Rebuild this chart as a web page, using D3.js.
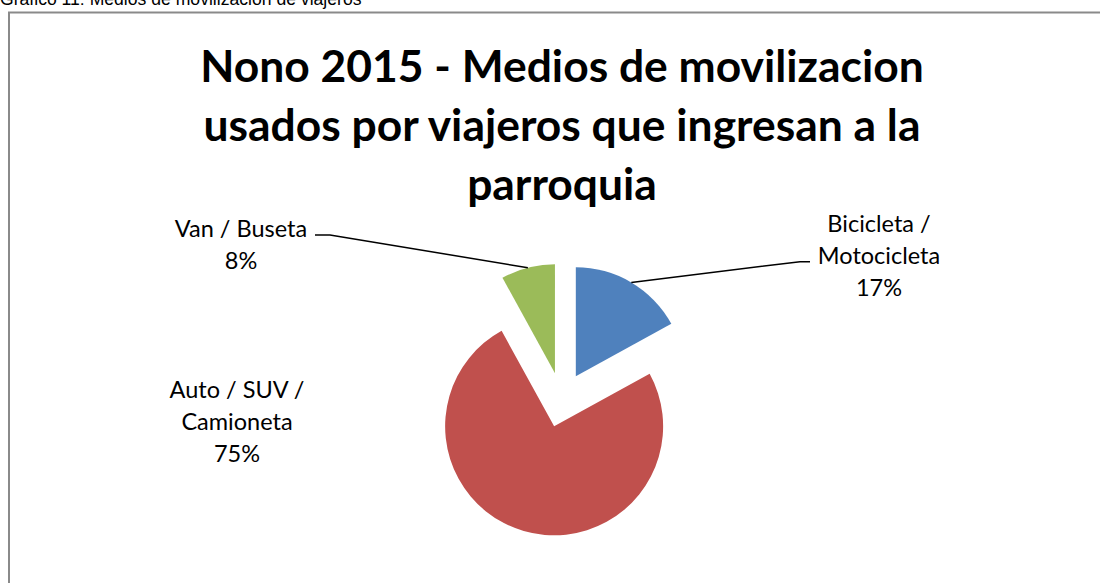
<!DOCTYPE html>
<html>
<head>
<meta charset="utf-8">
<script src="https://cdn.jsdelivr.net/npm/d3@7"></script>
<style>
  body { margin: 0; background: #fff; }
  svg { display: block; }
</style>
</head>
<body>
<svg id="chart" width="1100" height="583"></svg>
<script>
// Data
var categories = ['Bicicleta / Motocicleta', 'Auto / SUV / Camioneta', 'Van / Buseta'];
var values = [17, 75, 8];
var colors = ['#4F81BD', '#C0504D', '#9BBB59'];
// label lines as they are wrapped in the chart
var labelLines = [['Bicicleta /', 'Motocicleta'], ['Auto / SUV /', 'Camioneta'], ['Van / Buseta']];
var titleLines = ['Nono 2015 - Medios de movilizacion', 'usados por viajeros que ingresan a la', 'parroquia'];
var caption = 'Gráfico 11: Medios de movilización de viajeros';

var svg = d3.select('#chart');

// caption of the document (cut off at the top, as in the page it came from)
svg.append('text')
  .attr('x', 0)
  .attr('y', 5)
  .style('font-family', '"Liberation Sans", Arial, sans-serif')
  .style('font-size', '17.6px')
  .style('fill', '#000')
  .text(caption);

// chart frame
svg.append('rect')
  .attr('x', 9)
  .attr('y', 12.5)
  .attr('width', 1200)
  .attr('height', 700)
  .style('fill', '#fff')
  .style('stroke', '#8a8a8a')
  .style('stroke-width', 2);

// title
svg.append('text')
  .attr('text-anchor', 'middle')
  .style('font-family', 'Lato, sans-serif')
  .style('font-weight', 'bold')
  .style('font-size', '44.4px')
  .selectAll('tspan')
  .data(titleLines)
  .enter()
  .append('tspan')
  .attr('x', 562)
  .attr('y', (d, i) => 82 + i * 59)
  .text((d) => d);

var cx = 561.8, cy = 399.9;
var r = 109;
var explode = 27.5;

var pie = d3.pie().sort(null).value((d) => d.value);
var arcs = pie(values.map((v, i) => ({ name: categories[i], value: v, i: i })));

var arc = d3.arc().innerRadius(0).outerRadius(r);
var edge = d3.arc().innerRadius(r).outerRadius(r);

function offset(d) {
  var a = (d.startAngle + d.endAngle) / 2;
  return [explode * Math.sin(a), -explode * Math.cos(a)];
}

var g = svg.append('g').attr('transform', 'translate(' + cx + ',' + cy + ')');

g.selectAll('.slice')
  .data(arcs)
  .enter()
  .append('path')
  .attr('class', 'slice')
  .attr('transform', (d) => 'translate(' + offset(d) + ')')
  .attr('d', arc)
  .style('fill', (d) => colors[d.data.i]);

// label anchors (text block centre x, first baseline y) and leader elbows
var labelPos = [
  { x: 879, y: 232, elbow: [800, 261.7], end: [810, 261.7] },
  { x: 237, y: 398, elbow: null, end: null },
  { x: 241, y: 237, elbow: [330, 235], end: [315, 235] }
];

arcs.forEach((d) => {
  var lp = labelPos[d.data.i];
  if (lp.elbow) {
    var o = offset(d);
    var c = edge.centroid(d);
    var p = [cx + o[0] + c[0], cy + o[1] + c[1]];
    svg.append('path')
      .attr('d', d3.line()([p, lp.elbow, lp.end]))
      .style('fill', 'none')
      .style('stroke', '#000')
      .style('stroke-width', 1.5);
  }
  var lines = labelLines[d.data.i].concat([d3.format('.0f')(d.data.value) + '%']);
  svg.append('text')
    .attr('text-anchor', 'middle')
    .style('font-family', 'Lato, sans-serif')
    .style('font-size', '23.5px')
    .style('fill', '#000')
    .selectAll('tspan')
    .data(lines)
    .enter()
    .append('tspan')
    .attr('x', lp.x)
    .attr('y', (t, k) => lp.y + k * 31.8)
    .text((t) => t);
});
</script>
</body>
</html>
